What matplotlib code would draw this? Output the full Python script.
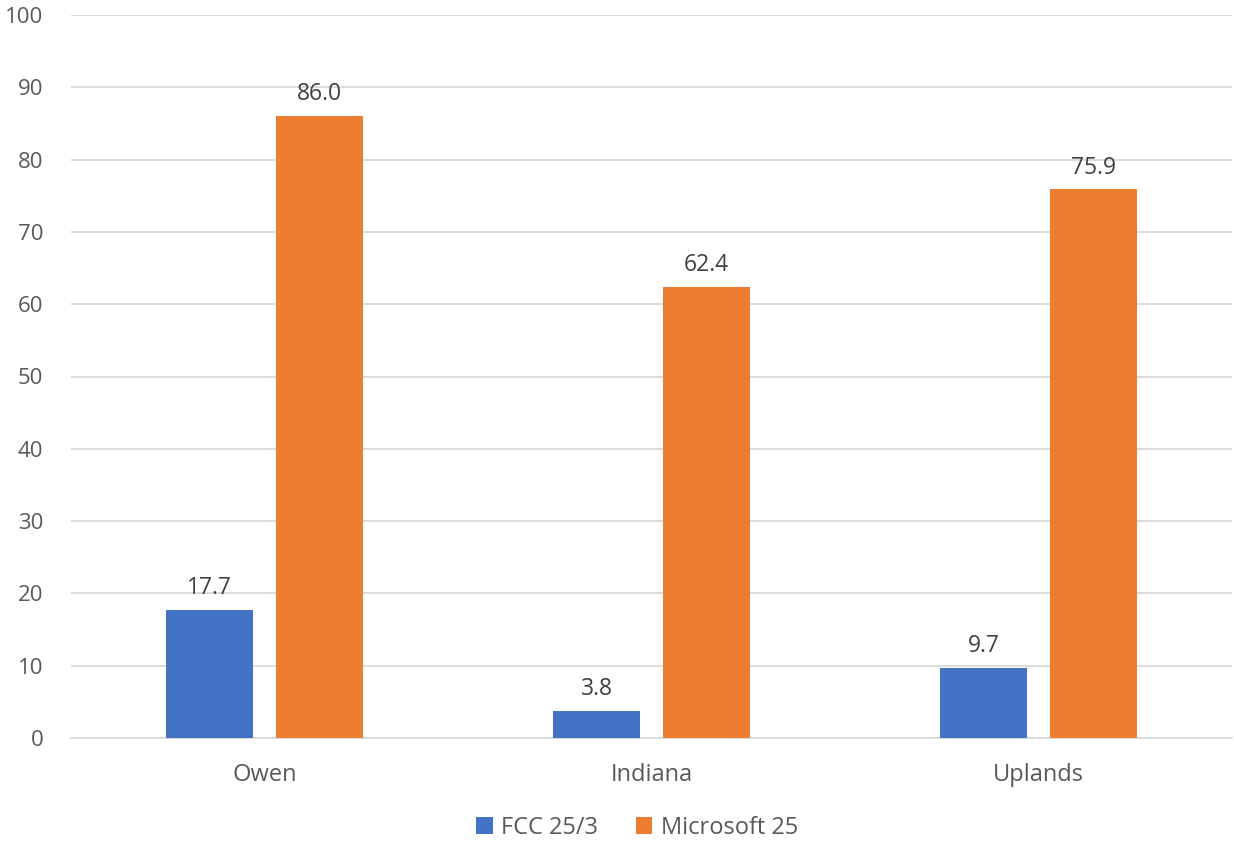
import matplotlib.pyplot as plt
import numpy as np

categories = ['Owen', 'Indiana', 'Uplands']
fcc = [17.7, 3.8, 9.7]
microsoft = [86.0, 62.4, 75.9]
series_names = ['FCC 25/3', 'Microsoft 25']

plt.rcParams['font.family'] = ['Open Sans', 'DejaVu Sans']
text_color = '#595959'

fig = plt.figure(figsize=(12.34, 8.42), dpi=100)
ax = fig.add_axes([71 / 1234, 1 - 738 / 842, 1161 / 1234, (738 - 15) / 842])

x = np.arange(len(categories))
w = 0.2245
gap = 0.0595
off = (w + gap) / 2
b1 = ax.bar(x - off, fcc, w, color='#4472C4', label=series_names[0], zorder=3)
b2 = ax.bar(x + off, microsoft, w, color='#ED7D31', label=series_names[1], zorder=3)

for bars in (b1, b2):
    ax.bar_label(bars, labels=[f'{v:.1f}' for v in bars.datavalues], padding=7,
                 fontsize=16.5, color='#404040')

ax.set_xlim(-0.5, len(categories) - 0.5)
ax.set_ylim(0, 100)
ax.set_yticks(range(0, 101, 10))
ax.yaxis.grid(True, color='#d9d9d9', linewidth=1.3, zorder=0)
for s in ['top', 'right', 'left']:
    ax.spines[s].set_visible(False)
ax.spines['bottom'].set_color('#d9d9d9')
ax.spines['bottom'].set_linewidth(1.3)
ax.tick_params(axis='both', length=0, labelsize=16, labelcolor=text_color)
ax.tick_params(axis='y', pad=20)
ax.tick_params(axis='x', pad=18, labelsize=17)
ax.set_xticks(x)
ax.set_xticklabels(categories)

leg = fig.legend(handles=[b1, b2], loc='center', bbox_to_anchor=(637 / 1234, 1 - 828 / 842),
                 ncol=2, frameon=False, fontsize=17, handlelength=0.7, handleheight=0.7,
                 handletextpad=0.35, columnspacing=1.6)
for t in leg.get_texts():
    t.set_color(text_color)

fig.savefig('out.png', dpi=100)
